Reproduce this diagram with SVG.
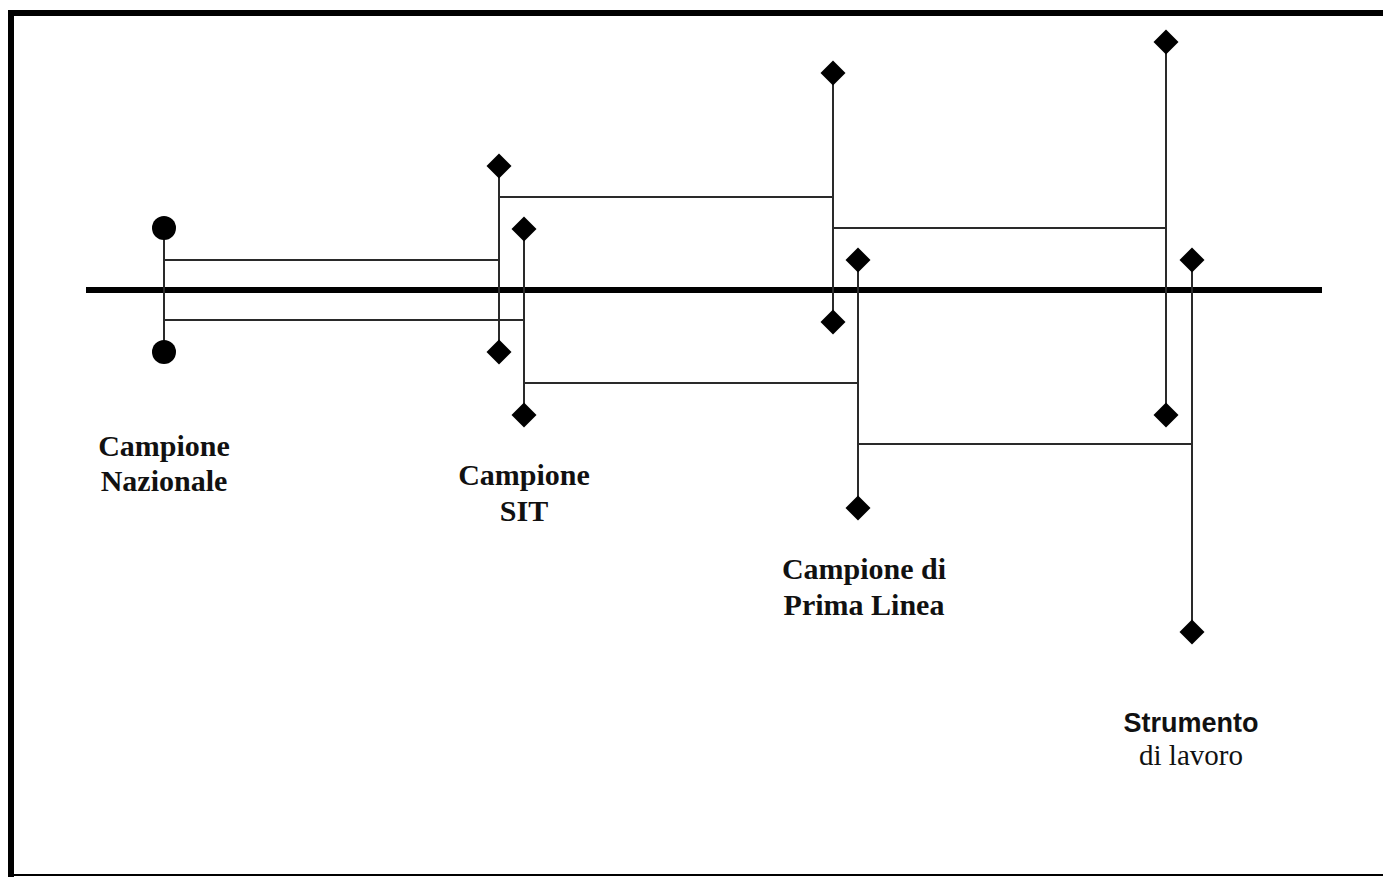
<svg xmlns="http://www.w3.org/2000/svg" width="1383" height="877" viewBox="0 0 1383 877">
  <defs>
    <style>
      .frame { stroke: #000; fill: none; }
      .axis { stroke: #000; stroke-width: 6; }
      .link { stroke: #2a2a2a; stroke-width: 2; fill: none; }
      .dot { fill: #000; }
      .lbl { font-family: "Liberation Serif", "Times New Roman", serif; font-weight: bold; font-size: 30px; fill: #111; text-anchor: middle; }
      .lbl-sans { font-family: "Liberation Sans", Arial, sans-serif; font-weight: bold; font-size: 27px; fill: #111; text-anchor: middle; }
      .lbl-plain { font-family: "Liberation Serif", "Times New Roman", serif; font-size: 29px; fill: #111; text-anchor: middle; }
    </style>
    <path id="dia" d="M0,-12.5 L12.5,0 L0,12.5 L-12.5,0 Z" fill="#000"/>
  </defs>

  <rect width="1383" height="877" fill="#fff"/>

  <!-- outer frame: heavy top and left edges, light bottom edge -->
  <g id="frame">
    <line class="frame" x1="8" y1="13" x2="1383" y2="13" stroke-width="6"/>
    <line class="frame" x1="11" y1="10" x2="11" y2="877" stroke-width="6"/>
    <line class="frame" x1="8" y1="875" x2="1383" y2="875" stroke-width="2" stroke="#555"/>
  </g>

  <!-- reference axis -->
  <line class="axis" x1="86" y1="290" x2="1322" y2="290"/>

  <!-- traceability connectors -->
  <g id="connectors">
    <line class="link" x1="164" y1="260" x2="499" y2="260"/>
    <line class="link" x1="164" y1="320" x2="524" y2="320"/>
    <line class="link" x1="499" y1="197" x2="833" y2="197"/>
    <line class="link" x1="524" y1="383" x2="858" y2="383"/>
    <line class="link" x1="833" y1="228" x2="1166" y2="228"/>
    <line class="link" x1="858" y1="444" x2="1192" y2="444"/>
  </g>

  <!-- national standard -->
  <g id="nazionale">
    <line class="link" x1="164" y1="228" x2="164" y2="352"/>
    <circle class="dot" cx="164" cy="228" r="12"/>
    <circle class="dot" cx="164" cy="352" r="12"/>
    <text class="lbl" x="164" y="456">Campione</text>
    <text class="lbl" x="164" y="491">Nazionale</text>
  </g>

  <!-- SIT standard -->
  <g id="sit">
    <line class="link" x1="499" y1="166" x2="499" y2="352"/>
    <line class="link" x1="524" y1="229" x2="524" y2="415"/>
    <use href="#dia" x="499" y="166"/>
    <use href="#dia" x="499" y="352"/>
    <use href="#dia" x="524" y="229"/>
    <use href="#dia" x="524" y="415"/>
    <text class="lbl" x="524" y="485">Campione</text>
    <text class="lbl" x="524" y="521">SIT</text>
  </g>

  <!-- first-line standard -->
  <g id="prima-linea">
    <line class="link" x1="833" y1="73" x2="833" y2="322"/>
    <line class="link" x1="858" y1="260" x2="858" y2="508"/>
    <use href="#dia" x="833" y="73"/>
    <use href="#dia" x="833" y="322"/>
    <use href="#dia" x="858" y="260"/>
    <use href="#dia" x="858" y="508"/>
    <text class="lbl" x="864" y="579">Campione di</text>
    <text class="lbl" x="864" y="615">Prima Linea</text>
  </g>

  <!-- working instrument -->
  <g id="strumento">
    <line class="link" x1="1166" y1="42" x2="1166" y2="415"/>
    <line class="link" x1="1192" y1="260" x2="1192" y2="632"/>
    <use href="#dia" x="1166" y="42"/>
    <use href="#dia" x="1166" y="415"/>
    <use href="#dia" x="1192" y="260"/>
    <use href="#dia" x="1192" y="632"/>
    <text class="lbl-sans" x="1191" y="732">Strumento</text>
    <text class="lbl-plain" x="1191" y="765">di lavoro</text>
  </g>
</svg>
